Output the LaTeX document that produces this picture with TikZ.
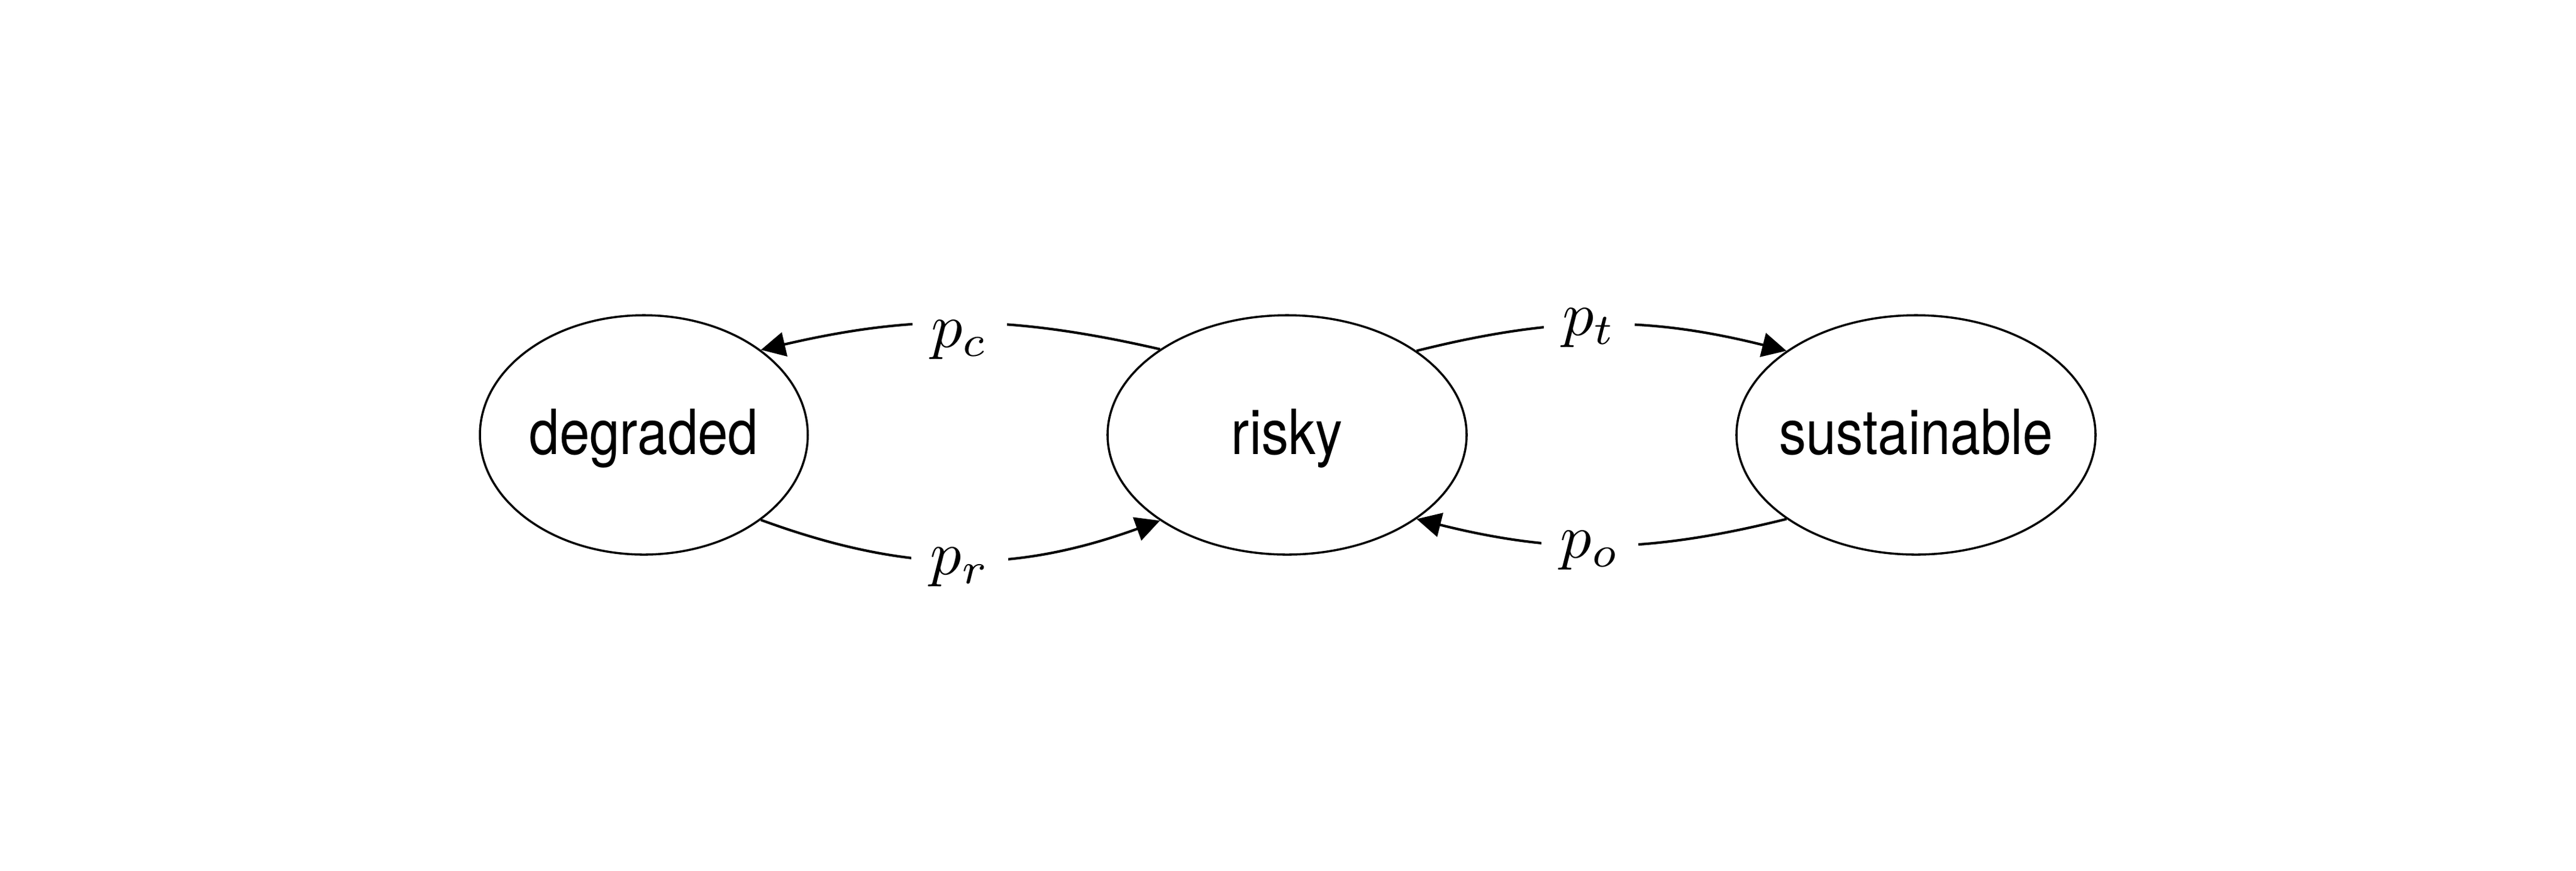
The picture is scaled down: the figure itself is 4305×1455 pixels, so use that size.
\documentclass[tikz,border=0pt]{standalone}
\usepackage{fontspec}
\newfontfamily\nodefont[FakeStretch=0.87]{TeX Gyre Heros}
\usetikzlibrary{shapes.geometric,arrows.meta}
\begin{document}
\begin{tikzpicture}[x=0.096pt,y=-0.096pt,
  state/.style={draw, ellipse, line width=0.34pt, inner xsep=-3pt, inner ysep=0pt,
    minimum height=38.4pt, text height=7.2pt, text depth=1pt,
    font=\fontsize{10}{12}\selectfont\nodefont},
  edge/.style={line width=0.4pt, -{Triangle[length=3.9pt,width=3.9pt]}},
  lbl/.style={fill=white, anchor=base, inner xsep=3pt, inner ysep=1pt,
    font=\fontsize{10}{12}\selectfont}]
\useasboundingbox[fill=white] (0,0) rectangle (4305,1455);
\node[state, minimum width=52.6pt] (deg) at (1076,727) {degraded};
\node[state, minimum width=57.6pt] (risky) at (2151,727) {risky};
\node[state, minimum width=57.6pt] (sus) at (3202,727) {sustainable};
\draw[edge] (risky.146) to[bend right=13] (deg.36);
\draw[edge] (deg.-36) to[bend right=20] (risky.214);
\draw[edge] (risky.33) to[bend left=14] (sus.147);
\draw[edge] (sus.213) to[bend left=14] (risky.-33);
\node[lbl] (pc) at (1604,580) {$p_c$};
\node[lbl] (pr) at (1604,960) {$p_r$};
\node[lbl] (pt) at (2656,560) {$p_t$};
\node[lbl] (po) at (2657,932) {$p_o$};
\end{tikzpicture}
\end{document}
